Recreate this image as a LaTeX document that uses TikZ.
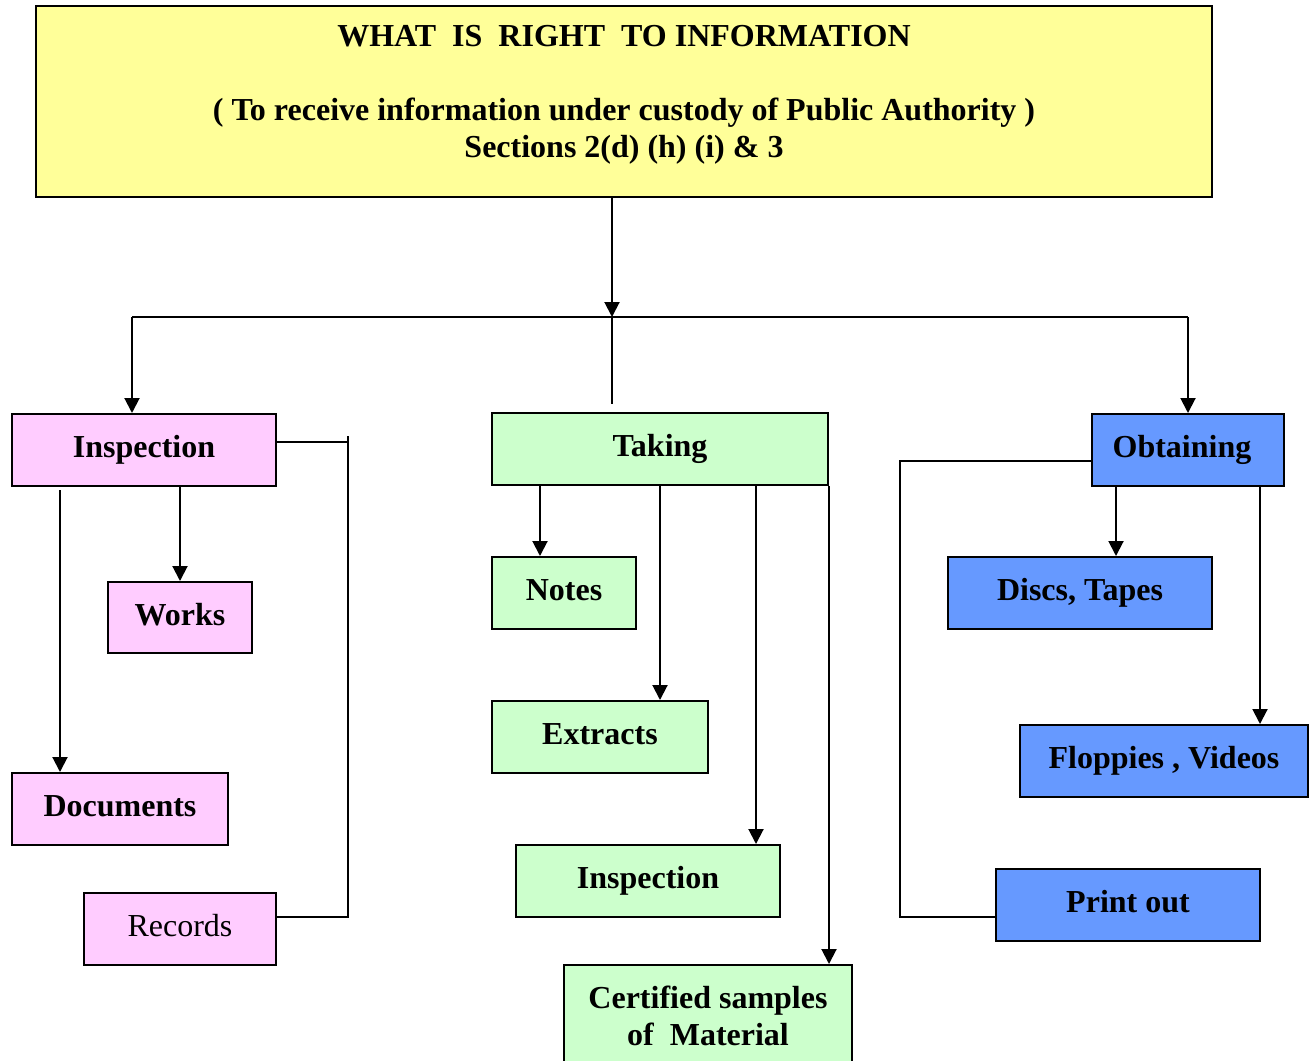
\documentclass[tikz,border=0pt]{standalone}
\usepackage{fontspec}
\setmainfont{Liberation Serif}
\usetikzlibrary{arrows.meta,calc}
\definecolor{cyell}{HTML}{FFFF99}
\definecolor{cpink}{HTML}{FFCCFF}
\definecolor{cgreen}{HTML}{CCFFCC}
\definecolor{cblue}{HTML}{6699FF}
\begin{document}
\begin{tikzpicture}[x=1pt,y=-1pt,
  every node/.style={font=\fontsize{32}{37}\selectfont\bfseries},
  box/.style={draw=black,line width=2pt,inner sep=0pt,text height=22pt,text depth=7pt},
  conn/.style={line width=2pt},
  arr/.style={line width=2pt,-{Triangle[length=15pt,width=15pt]}}]
\useasboundingbox (0,0) rectangle (1314,1060);
% top box
\node[box,fill=cyell,minimum width=1176pt,minimum height=191pt] (top) at (624,101.5) {};
\node[anchor=base,align=center,inner sep=0pt] (title) at (624,157) {WHAT\ \ IS\ \ RIGHT\ \ TO INFORMATION\\[37pt]( To receive information under custody of Public Authority )\\Sections 2(d) (h) (i) \& 3};
% inspection column
\node[box,fill=cpink,minimum width=264pt,minimum height=72pt] (insp) at (144,450) {Inspection};
\node[box,fill=cpink,minimum width=144pt,minimum height=71pt] (works) at (180,617.5) {Works};
\node[box,fill=cpink,minimum width=216pt,minimum height=72pt] (docs) at (120,809) {Documents};
\node[box,fill=cpink,minimum width=192pt,minimum height=72pt,font=\fontsize{32}{37}\selectfont\mdseries] (recs) at (180,929) {Records};
% taking column
\node[box,fill=cgreen,minimum width=336pt,minimum height=72pt] (taking) at (660,449) {Taking};
\node[box,fill=cgreen,minimum width=144pt,minimum height=72pt] (notes) at (564,593) {Notes};
\node[box,fill=cgreen,minimum width=216pt,minimum height=72pt] (extr) at (600,737) {Extracts};
\node[box,fill=cgreen,minimum width=264pt,minimum height=72pt] (insp2) at (648,881) {Inspection};
\node[draw=black,line width=2pt,inner sep=0pt,fill=cgreen,minimum width=288pt,minimum height=102pt,align=center] (cert) at (708,1016) {Certified samples\\of\ \ Material};
% obtaining column
\node[box,fill=cblue,minimum width=192pt,minimum height=72pt] (obt) at (1188,450) {\hspace{-12pt}Obtaining};
\node[box,fill=cblue,minimum width=264pt,minimum height=72pt] (discs) at (1080,593) {Discs, Tapes};
\node[box,fill=cblue,minimum width=288pt,minimum height=72pt] (flop) at (1164,761) {Floppies , Videos};
\node[box,fill=cblue,minimum width=264pt,minimum height=72pt] (print) at (1128,905) {Print out};
% helper coordinates
\coordinate (hub) at (612,317);
\coordinate (lhub) at (132,317);
\coordinate (rhub) at (1188,317);
\coordinate (dx) at (60,490);
\coordinate (rv) at (348,442);
\coordinate (rvtop) at (348,436);
\coordinate (rvbot) at (348,917);
\coordinate (tx1) at (540,0);
\coordinate (tx2) at (660,0);
\coordinate (tx3) at (756,0);
\coordinate (ox1) at (1116,0);
\coordinate (ox2) at (1260,0);
\coordinate (pl) at (900,461);
\coordinate (pb) at (900,917);
% connectors
\draw[arr] (top.south -| hub) -- (hub);
\draw[conn] (lhub) -- (rhub);
\draw[arr] (lhub) -- (lhub |- insp.north);
\draw[arr] (rhub) -- (obt.north);
\draw[conn] (hub) -- ($(hub |- taking.north)+(0,-8)$);
% inspection
\draw[arr] (works.north |- insp.south) -- (works.north);
\draw[arr] (dx) -- (dx |- docs.north);
\draw[conn] (insp.east |- rv) -- (rv);
\draw[conn] (rvtop) -- (rvbot) -- (recs.east |- rvbot);
% taking
\draw[arr] (taking.south -| tx1) -- (notes.north -| tx1);
\draw[arr] (taking.south -| tx2) -- (extr.north -| tx2);
\draw[arr] (taking.south -| tx3) -- (insp2.north -| tx3);
\draw[arr] (taking.south east) -- (taking.south east |- cert.north);
% obtaining
\draw[arr] (obt.south -| ox1) -- (discs.north -| ox1);
\draw[arr] (obt.south -| ox2) -- (flop.north -| ox2);
\draw[conn] (obt.west |- pl) -- (pl) -- (pb) -- (print.west |- pb);
\end{tikzpicture}
\end{document}
